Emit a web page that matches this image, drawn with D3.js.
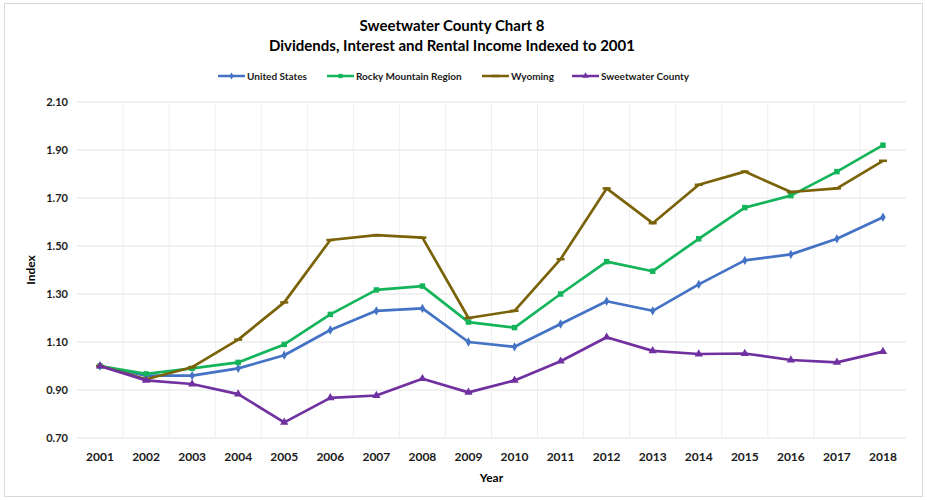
<!DOCTYPE html>
<html>
<head>
<meta charset="utf-8">
<script src="https://cdn.jsdelivr.net/npm/d3@7"></script>
<style>
  html, body { margin: 0; padding: 0; background: #fff; }
  svg { display: block; font-family: Lato, "Open Sans", sans-serif; }
</style>
</head>
<body>
<svg id="chart" width="927" height="500"></svg>
<script>
// Categories and series
const years = ["2001","2002","2003","2004","2005","2006","2007","2008","2009",
               "2010","2011","2012","2013","2014","2015","2016","2017","2018"];
const unitedStates = [1.00,0.96,0.96,0.99,1.045,1.15,1.23,1.24,1.10,
                      1.08,1.175,1.27,1.23,1.34,1.44,1.465,1.53,1.62];
const rockyMountain = [1.00,0.967,0.99,1.015,1.09,1.215,1.317,1.333,1.183,
                       1.16,1.30,1.435,1.395,1.53,1.66,1.71,1.81,1.92];
const wyoming = [1.00,0.945,0.995,1.11,1.265,1.525,1.545,1.535,1.20,
                 1.23,1.445,1.74,1.595,1.755,1.81,1.725,1.74,1.855];
const sweetwater = [1.00,0.94,0.925,0.883,0.765,0.867,0.877,0.947,0.89,
                    0.94,1.02,1.12,1.063,1.05,1.052,1.025,1.015,1.06];
const yTicks = [0.70,0.90,1.10,1.30,1.50,1.70,1.90,2.10];

const seriesNames = ["United States","Rocky Mountain Region","Wyoming","Sweetwater County"];
const seriesValues = [unitedStates, rockyMountain, wyoming, sweetwater];
const seriesColors = ["#4472C4","#14B45A","#7A6209","#7030A0"];
const seriesMarkers = ["diamond","square","dash","triangle"];

const svg = d3.select("#chart");
const W = 927, H = 500;
const m = { left: 77, right: 21, top: 102, bottom: 62 };

// outer frame
svg.append("rect").attr("x", 4.5).attr("y", 3.5).attr("width", W - 9).attr("height", H - 7)
  .attr("fill", "#fff").attr("stroke", "#d9d9d9").attr("stroke-width", 1);

const x = d3.scaleBand().domain(years).range([m.left, W - m.right]).paddingInner(0).paddingOuter(0);
const y = d3.scaleLinear().domain([0.70, 2.10]).range([H - m.bottom, m.top]);
const cx = d => x(d) + x.bandwidth() / 2;

// gridlines
const g = svg.append("g");
g.selectAll(".hg").data(yTicks).join("line")
  .attr("x1", m.left).attr("x2", W - m.right)
  .attr("y1", d => y(d)).attr("y2", d => y(d))
  .attr("stroke", "#e4e4e4").attr("stroke-width", 1);
g.selectAll(".vg").data(years.slice(1)).join("line")
  .attr("x1", d => x(d)).attr("x2", d => x(d))
  .attr("y1", y(2.10)).attr("y2", y(0.70))
  .attr("stroke", "#efefef").attr("stroke-width", 1);

// axes
const yAxis = d3.axisLeft(y).tickValues(yTicks).tickFormat(d3.format(".2f")).tickSize(0).tickPadding(9);
svg.append("g").attr("transform", `translate(${m.left},0)`).call(yAxis)
  .call(s => s.select(".domain").remove())
  .selectAll("text").attr("font-size", 11).attr("font-weight", "bold").attr("fill", "#1a1a1a")
  .attr("font-family", "Lato, sans-serif");

const xAxis = d3.axisBottom(x).tickSize(0).tickPadding(14);
svg.append("g").attr("transform", `translate(0,${H - m.bottom})`).call(xAxis)
  .call(s => s.select(".domain").remove())
  .selectAll("text").attr("font-size", 12).attr("font-weight", "bold").attr("fill", "#1a1a1a")
  .attr("font-family", "Lato, sans-serif");

// axis titles
svg.append("text").attr("x", (m.left + W - m.right) / 2).attr("y", 482)
  .attr("text-anchor", "middle").attr("font-size", 12).attr("font-weight", "bold").text("Year");
svg.append("text").attr("transform", "translate(35,270) rotate(-90)")
  .attr("text-anchor", "middle").attr("font-size", 12).attr("font-weight", "bold").text("Index");

// title
svg.append("text").attr("x", 452).attr("y", 31).attr("text-anchor", "middle")
  .attr("font-size", 15).attr("font-weight", "bold").text("Sweetwater County Chart 8");
svg.append("text").attr("x", 452).attr("y", 51).attr("text-anchor", "middle")
  .attr("font-size", 15).attr("font-weight", "bold").text("Dividends, Interest and Rental Income Indexed to 2001");

// marker drawing
function drawMarker(sel, type, color, size) {
  if (type === "diamond") {
    sel.append("path").attr("d", d3.symbol(d3.symbolDiamond, size * 5)()).attr("fill", color);
  } else if (type === "square") {
    sel.append("path").attr("d", d3.symbol(d3.symbolSquare, size * 6)()).attr("fill", color);
  } else if (type === "triangle") {
    sel.append("path").attr("d", d3.symbol(d3.symbolTriangle, size * 6)()).attr("fill", color);
  } else {
    sel.append("line").attr("x1", -4).attr("x2", 4).attr("stroke", color).attr("stroke-width", 2.5);
  }
}

const line = d3.line().x((d, i) => cx(years[i])).y(d => y(d));

seriesValues.forEach((vals, k) => {
  const col = seriesColors[k];
  svg.append("path").datum(vals).attr("d", line)
    .attr("fill", "none").attr("stroke", col).attr("stroke-width", 2.7)
    .attr("stroke-linejoin", "round");
  const pts = svg.append("g").selectAll("g").data(vals).join("g")
    .attr("transform", (d, i) => `translate(${cx(years[i])},${y(d)})`);
  pts.each(function () { drawMarker(d3.select(this), seriesMarkers[k], col, 5); });
});

// legend
const legendX = [218, 327, 482, 572];
const legend = svg.append("g");
seriesNames.forEach((name, k) => {
  const lg = legend.append("g").attr("transform", `translate(${legendX[k]},76)`);
  lg.append("line").attr("x1", 0).attr("x2", 27).attr("stroke", seriesColors[k]).attr("stroke-width", 2.5);
  const mk = lg.append("g").attr("transform", "translate(13.5,0)");
  drawMarker(mk, seriesMarkers[k], seriesColors[k], 3);
  lg.append("text").attr("x", 29).attr("y", 3.5).attr("font-size", 10).attr("font-weight", "bold")
    .attr("fill", "#1a1a1a").text(name);
});
</script>
</body>
</html>
